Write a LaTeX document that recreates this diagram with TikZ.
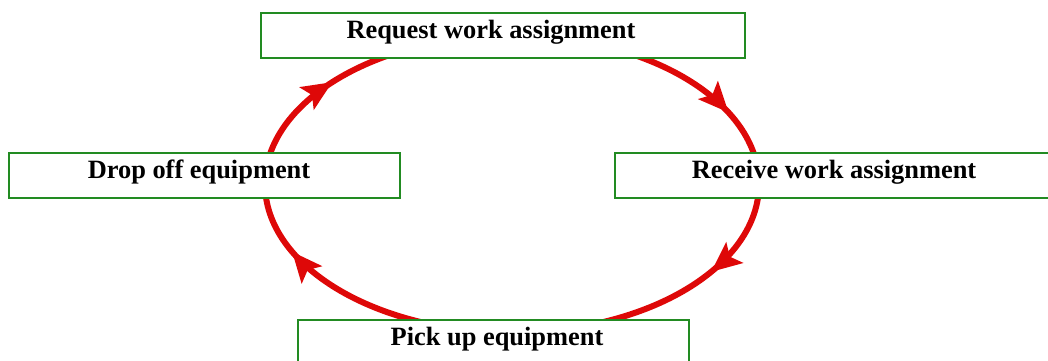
\documentclass[tikz,border=0pt]{standalone}
\usepackage{fontspec}
\setmainfont{Liberation Serif}
\usetikzlibrary{arrows.meta,decorations.markings}

\definecolor{cycred}{RGB}{222,8,8}
\definecolor{boxgreen}{RGB}{34,139,34}

\begin{document}
\begin{tikzpicture}[x=1pt, y=1pt,
    stepbox/.style={draw=boxgreen, line width=1.4pt, fill=white, inner xsep=0pt, inner ysep=0pt,
        text height=25pt, text depth=20pt, minimum height=45pt,
        font=\fontsize{26.4}{30}\selectfont\bfseries},
    cyctip/.style={decoration={markings,
        mark=at position 0.063 with {\arrowreversed{Stealth[length=30pt, width=26pt, inset=6pt]}},
        mark=at position 0.399 with {\arrowreversed{Stealth[length=30pt, width=26pt, inset=6pt]}},
        mark=at position 0.559 with {\arrowreversed{Stealth[length=30pt, width=26pt, inset=6pt]}},
        mark=at position 0.918 with {\arrowreversed{Stealth[length=30pt, width=26pt, inset=6pt]}}},
        postaction={decorate}}]
    \useasboundingbox (0,0) rectangle (1048,360);
    \clip (0,0) rectangle (1048,360);

    % the work cycle
    \coordinate (cyc) at (512,176);
    \draw[cycred, line width=6pt, cyctip] (cyc) ellipse (247 and 148.5);

    \node[stepbox, minimum width=484pt] (request) at (503,324.5) {\hspace*{-24pt}Request work assignment};
    \node[stepbox, minimum width=391pt] (drop) at (204.5,184.5) {\hspace*{-11pt}Drop off equipment};
    \node[stepbox, minimum width=438pt] (receive) at (834,184.5) {Receive work assignment};
    \node[stepbox, minimum width=391pt] (pick) at (493.5,17.5) {\hspace*{7pt}Pick up equipment};
\end{tikzpicture}
\end{document}
